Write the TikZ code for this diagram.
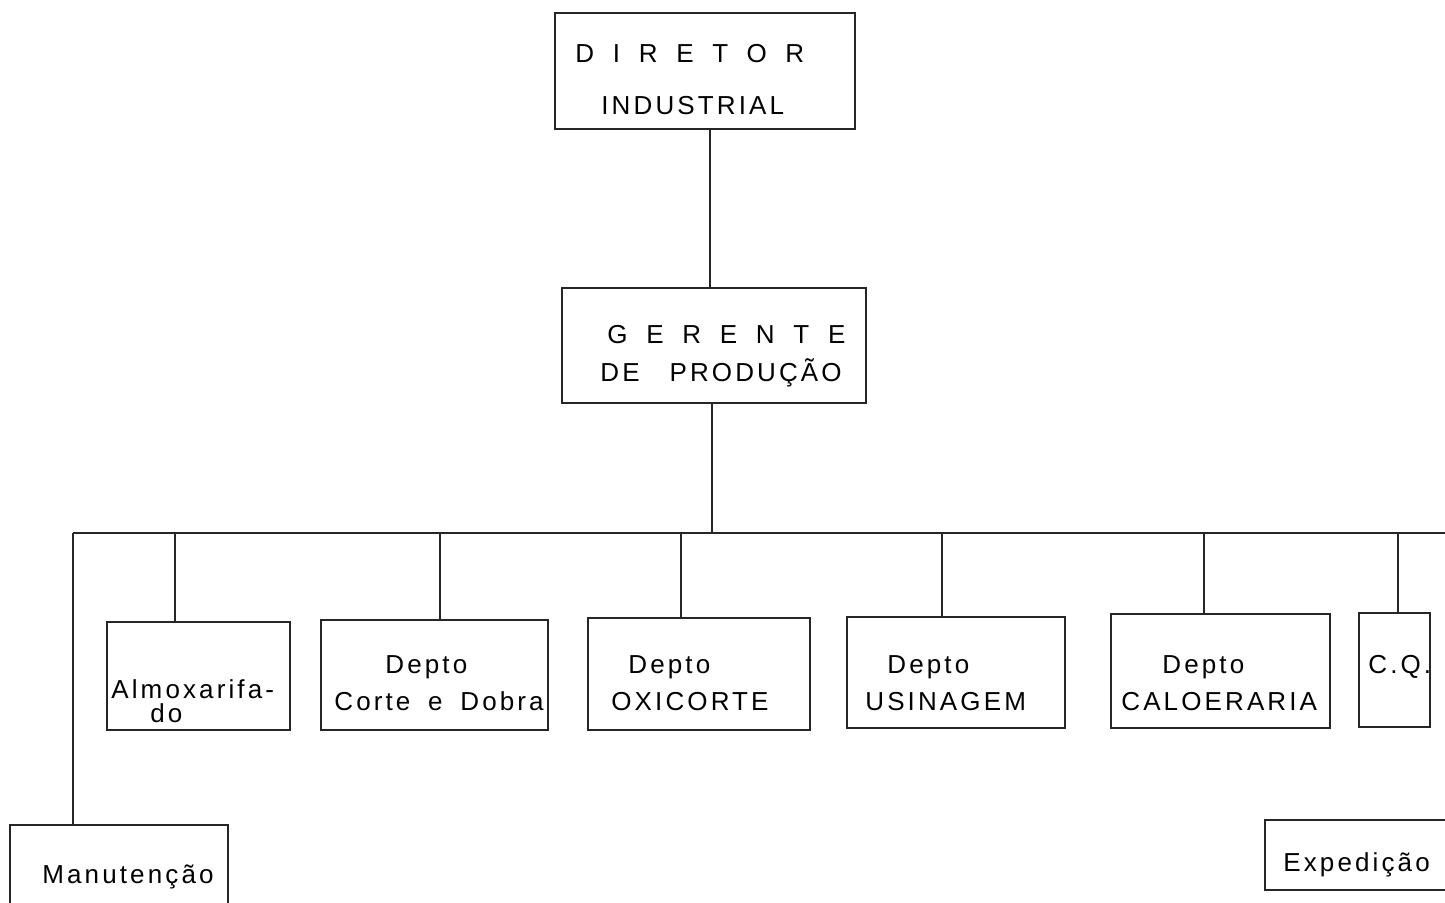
\documentclass[tikz,border=0pt]{standalone}
\usepackage{fontspec}
\setmainfont{Liberation Sans}[LetterSpace=12]
\newfontfamily\widefont{Liberation Sans}[LetterSpace=72]
\usetikzlibrary{calc}
\begin{document}
\begin{tikzpicture}[x=0.5pt,y=-0.5pt,
  box/.style={draw=black!85, line width=0.7pt, inner sep=0pt},
  wire/.style={draw=black!85, line width=0.7pt},
  lbl/.style={anchor=base west, inner sep=0pt, font=\fontsize{13}{15}\selectfont},
  wide/.style={anchor=base west, inner sep=0pt, font={\widefont\fontsize{13}{15}\selectfont}}]
\useasboundingbox (0,0) rectangle (1445,903);

% management boxes
\node[box, minimum width=150pt, minimum height=58pt]   (dir) at (705,71) {};
\node[box, minimum width=152pt, minimum height=57.5pt] (ger) at (714,345.5) {};

% departments
\node[box, minimum width=91.5pt,  minimum height=54pt]   (alm) at (198.5,676) {};
\node[box, minimum width=113.5pt, minimum height=55pt]   (cd)  at (434.5,675) {};
\node[box, minimum width=111pt,   minimum height=56pt]   (oxi) at (699,674) {};
\node[box, minimum width=109pt,   minimum height=55.5pt] (usi) at (956,672.5) {};
\node[box, minimum width=109.5pt, minimum height=57pt]   (cal) at (1220.5,671) {};
\node[box, minimum width=35.5pt,  minimum height=57pt]   (cq)  at (1394.5,670) {};
\node[box, minimum width=109pt,   minimum height=44pt]   (man) at (119,869) {};
\node[box, minimum width=95pt,    minimum height=35pt]   (exp) at (1360,855) {};

% labels
\node[wide] (dirA) at (575,63) {DIRETOR};
\node[lbl]  (dirB) at (601,115) {INDUSTRIAL};
\node[wide] (gerA) at (607,344) {GERENTE};
\node[lbl]  (gerB) at (600,382) {DE\hspace{15pt}PRODUÇÃO};

\node[lbl] (almA) at (111,698) {Almoxarifa-};
\node[lbl] (almB) at (150,722) {do};
\node[lbl] (cdA)  at (385,673) {Depto};
\node[lbl] (cdB)  at (334,710) {Corte\hspace{3.7pt} e\hspace{3.7pt} Dobra};
\node[lbl] (oxiA) at (628,673) {Depto};
\node[lbl] (oxiB) at (611,710) {OXICORTE};
\node[lbl] (usiA) at (887,673) {Depto};
\node[lbl] (usiB) at (865,710) {USINAGEM};
\node[lbl] (calA) at (1162,673) {Depto};
\node[lbl] (calB) at (1121,710) {CALOERARIA};
\node[lbl] (cqA)  at (1368,673) {C.Q.};
\node[lbl] (manA) at (42,883) {Manutenção};
\node[lbl] (expA) at (1283,871) {Expedição};

% connectors
\coordinate (busL) at (73,533);
\coordinate (busR) at (1445,533);
\coordinate (d1) at ($(dir.south)+(5,0)$);
\draw[wire] (d1) -- (d1 |- ger.north);
\coordinate (g1) at ($(ger.south)+(-2,0)$);
\draw[wire] (g1) -- (g1 |- busL);
\draw[wire] (busL) -- (busR);
\draw[wire] (busL) -- (busL |- man.north);
\foreach \n/\dx in {alm/-23.5, cd/5.5, oxi/-18, usi/-14, cal/-16.5, cq/3.5} {
  \coordinate (t) at ($(\n.north)+(\dx,0)$);
  \draw[wire] (t) -- (t |- busL);
}
\end{tikzpicture}
\end{document}
